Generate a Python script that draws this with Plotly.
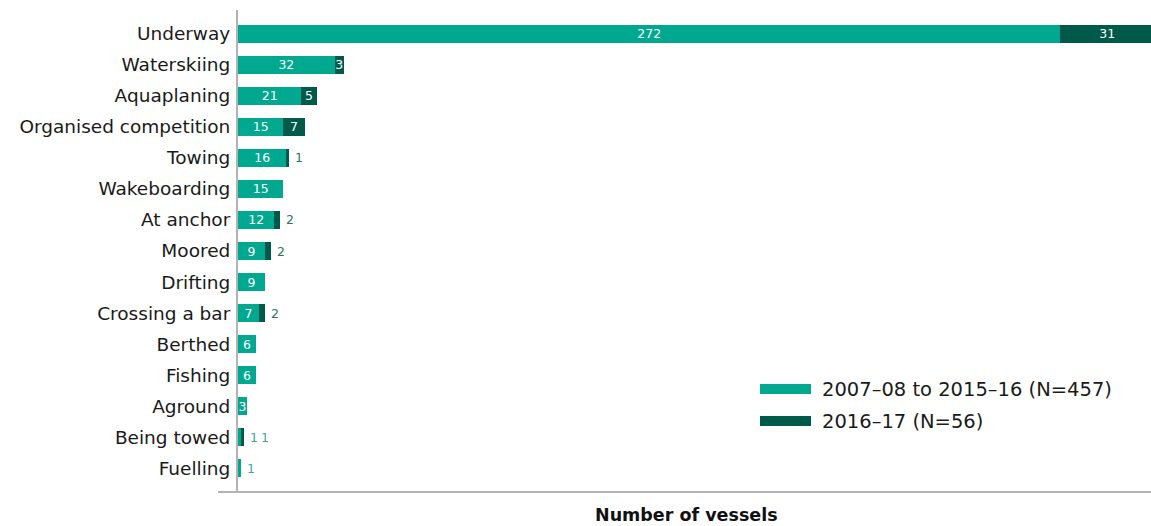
import plotly.graph_objects as go

categories = ["Underway", "Waterskiing", "Aquaplaning", "Organised competition", "Towing",
              "Wakeboarding", "At anchor", "Moored", "Drifting", "Crossing a bar",
              "Berthed", "Fishing", "Aground", "Being towed", "Fuelling"]
earlier = [272, 32, 21, 15, 16, 15, 12, 9, 9, 7, 6, 6, 3, 1, 1]
recent = [31, 3, 5, 7, 1, 0, 2, 2, 0, 2, 0, 0, 0, 1, 0]
series_names = ["2007–08 to 2015–16 (N=457)", "2016–17 (N=56)"]

LIGHT = "#00a88f"
DARK = "#005a4a"
LIGHT_TXT = "#3aa995"
DARK_TXT = "#2a7464"
FONT = "DejaVu Sans"

fig = go.Figure()

# values drawn inside the bar only when the segment is wide enough
def inside_text(vals, min_val):
    return [str(v) if v >= min_val else "" for v in vals]

for vals, name, col in [(earlier, series_names[0], LIGHT), (recent, series_names[1], DARK)]:
    fig.add_trace(go.Bar(
        y=categories, x=vals, orientation="h", name=name,
        marker=dict(color=col, line=dict(width=0)),
        text=inside_text(vals, 3), textposition="inside", insidetextanchor="middle",
        textangle=0, constraintext="none",
        textfont=dict(color="white", size=12.5, family=FONT), showlegend=False,
    ))

# small values written to the right of the bar
annotations = []
for cat, a, b in zip(categories, earlier, recent):
    total = a + b
    shift = 4
    if a < 3:
        annotations.append(dict(x=total, y=cat, xref="x", yref="y", text=str(a),
                                showarrow=False, xanchor="left", xshift=shift,
                                font=dict(color=LIGHT_TXT, size=12.5, family=FONT)))
        shift += 11
    if 0 < b < 3:
        annotations.append(dict(x=total, y=cat, xref="x", yref="y", text=str(b),
                                showarrow=False, xanchor="left", xshift=shift,
                                font=dict(color=DARK_TXT if a >= 3 else LIGHT_TXT, size=12.5, family=FONT)))

# legend drawn as swatches with labels
PLOT_L, PLOT_W, PLOT_B, PLOT_H = 238, 913, 492, 482
shapes = []
for i, (name, col) in enumerate(zip(series_names, [LIGHT, DARK])):
    yc = 389 + 32 * i
    shapes.append(dict(type="rect", xref="paper", yref="paper",
                       x0=(760 - PLOT_L) / PLOT_W, x1=(811 - PLOT_L) / PLOT_W,
                       y0=(PLOT_B - yc - 5) / PLOT_H, y1=(PLOT_B - yc + 5) / PLOT_H,
                       fillcolor=col, line=dict(width=0)))
    annotations.append(dict(xref="paper", yref="paper", x=(820 - PLOT_L) / PLOT_W,
                            y=(PLOT_B - yc) / PLOT_H, text=name, showarrow=False,
                            xanchor="left", yanchor="middle",
                            font=dict(size=19.5, color="#1a1a1a", family=FONT)))

# baseline extends slightly left of the category axis
shapes.append(dict(type="line", xref="paper", yref="paper", x0=-20 / PLOT_W, x1=1, y0=0, y1=0,
                   line=dict(color="#b3b3b3", width=2)))

annotations.append(dict(xref="paper", yref="paper", x=(686 - PLOT_L) / PLOT_W,
                        y=-(515 - PLOT_B) / PLOT_H,
                        text="<b>Number of vessels</b>", showarrow=False,
                        xanchor="center", yanchor="middle",
                        font=dict(size=17.5, color="#111111", family=FONT)))

fig.update_layout(
    barmode="stack", bargap=0.42,
    width=1151, height=526,
    margin=dict(l=PLOT_L, r=0, t=10, b=34),
    plot_bgcolor="white", paper_bgcolor="white",
    font=dict(family=FONT),
    uniformtext=dict(minsize=12.5, mode="show"),
    xaxis=dict(range=[0, 302], showgrid=False, zeroline=False, showticklabels=False,
               showline=False, fixedrange=True),
    yaxis=dict(range=[14.77, -0.77], showgrid=False, zeroline=False,
               showline=True, linecolor="#b3b3b3", linewidth=2,
               ticks="", ticklabelstandoff=2,
               tickfont=dict(size=18.5, color="#1a1a1a", family=FONT)),
    shapes=shapes, annotations=annotations,
)

fig.write_html("out.html")
